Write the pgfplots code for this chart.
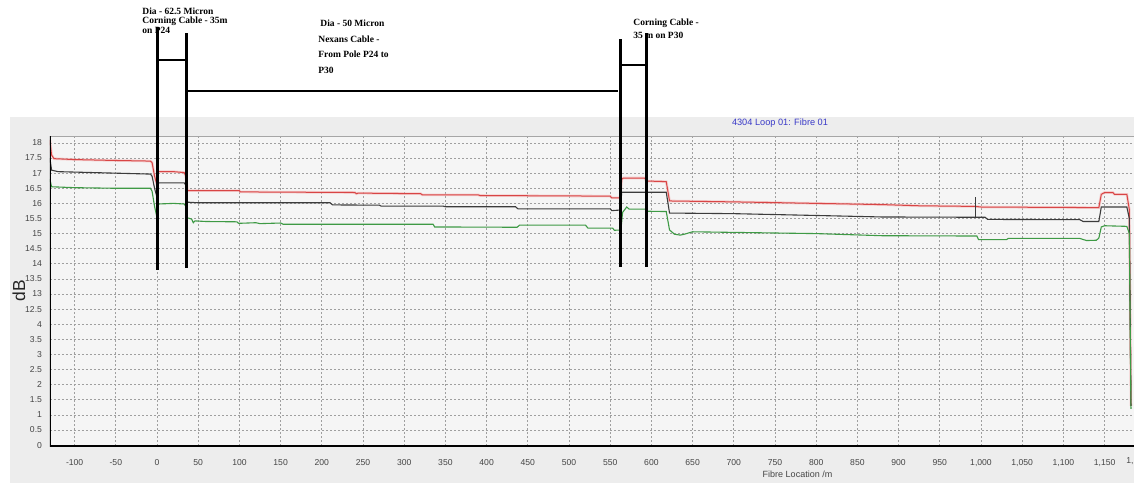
\documentclass[border=0pt]{standalone}
\usepackage{pgfplots}
\pgfplotsset{compat=1.18}
\usepackage{fontspec}
\setmainfont{Liberation Sans}
\newfontfamily\timesb{Liberation Serif}
\definecolor{panel}{HTML}{EDEDED}
\definecolor{plotbg}{HTML}{F5F5F5}
\definecolor{tracered}{HTML}{D84545}
\definecolor{redhalo}{HTML}{F4B4B4}
\definecolor{tracegray}{HTML}{3C3C3C}
\definecolor{tracegreen}{HTML}{3E9A45}
\definecolor{titleblue}{HTML}{3A3AC8}
\definecolor{ticktext}{HTML}{454545}

\begin{document}
\begin{tikzpicture}
\fill[white] (0,0) rectangle (567pt,-241.5pt);
\fill[panel] (5pt,-58.5pt) rectangle (567pt,-241.5pt);
\begin{axis}[
  at={(25pt,-223pt)}, anchor=south west,
  scale only axis, width=542pt, height=155pt,
  xmin=-129.9, xmax=1185.7, ymin=-0.03, ymax=10.23,
  axis line style={draw=none},
  axis background/.style={fill=plotbg},
  xtick={-100,-50,...,1150},
  ytick={0,0.5,...,10},
  yticklabels={0,0.5,1,1.5,2,2.5,3,3.5,4,12.5,13,13.5,14,14.5,15,15.5,16,16.5,17,17.5,18},
  grid=major,
  major grid style={gray!75, line width=0.35pt, dash pattern=on 1pt off 1pt},
  tick style={draw=none},
  ticklabel style={font=\fontsize{4.3}{5}\selectfont, text=ticktext},
  /pgf/number format/assume math mode=true,
  /pgf/number format/1000 sep={,},
  xticklabel style={yshift=-3pt},
  yticklabel style={xshift=-0.5pt},
  y filter/.expression={y>=12 ? y-8 : y},
  clip=true,
]
\draw[gray!70, line width=0.4pt] (rel axis cs:0,1) -- (rel axis cs:1,1);
% red trace
\addplot[redhalo, line width=1.3pt, opacity=0.6] coordinates {
(-130,18.1) (-128,17.6) (-125,17.48) (-100,17.45) (-50,17.42) (-8,17.4) (-6,17.35) (-3,16.9) (-1,16.7) (0,16.8) (1,17.05) (20,17.05) (33,17.02) (35,16.9) (37,16.42) (100,16.42) (101,16.38) (240,16.36) (242,16.32) (244,16.34) (320,16.32) (322,16.28) (390,16.28) (392,16.26) (550,16.24) (552,16.18) (562,16.18) (564,16.8) (566,16.84) (592,16.84) (594,16.74) (618,16.72) (622,16.08) (700,16.05) (800,16.0) (880,15.96) (926,15.92) (993,15.9) (1000,15.88) (1143,15.86) (1146,16.3) (1150,16.36) (1160,16.36) (1162,16.3) (1177,16.3) (1180,15.8) (1182,1.3)
};
\addplot[tracered, line width=0.5pt] coordinates {
(-130,18.1) (-128,17.6) (-125,17.48) (-100,17.45) (-50,17.42) (-8,17.4) (-6,17.35) (-3,16.9) (-1,16.7) (0,16.8) (1,17.05) (20,17.05) (33,17.02) (35,16.9) (37,16.42) (100,16.42) (101,16.38) (240,16.36) (242,16.32) (244,16.34) (320,16.32) (322,16.28) (390,16.28) (392,16.26) (550,16.24) (552,16.18) (562,16.18) (564,16.8) (566,16.84) (592,16.84) (594,16.74) (618,16.72) (622,16.08) (700,16.05) (800,16.0) (880,15.96) (926,15.92) (993,15.9) (1000,15.88) (1143,15.86) (1146,16.3) (1150,16.36) (1160,16.36) (1162,16.3) (1177,16.3) (1180,15.8) (1182,1.3)
};
% dark trace
\addplot[tracegray, line width=0.55pt] coordinates {
(-130,17.5) (-128,17.1) (-120,17.05) (-50,17.0) (-8,16.97) (-6,16.9) (-3,16.5) (-1,16.3) (0,16.5) (2,16.68) (33,16.68) (35,16.6) (37,16.04) (50,16.02) (210,16.02) (213,15.95) (270,15.94) (272,15.91) (347,15.91) (350,15.89) (435,15.89) (438,15.82) (550,15.82) (552,15.76) (562,15.78) (564,16.37) (618,16.37) (622,15.68) (700,15.66) (800,15.6) (880,15.55) (1005,15.54) (1008,15.47) (1120,15.46) (1124,15.4) (1143,15.4) (1146,15.88) (1177,15.88) (1180,15.5) (1182,1.3)
};
% green trace
\addplot[tracegreen, line width=0.55pt] coordinates {
(-130,16.8) (-128,16.55) (-100,16.52) (-50,16.5) (-8,16.5) (-6,16.4) (-3,15.9) (-1,15.65) (0,15.8) (2,15.98) (20,16.0) (33,15.98) (35,15.9) (37,15.52) (42,15.48) (44,15.36) (46,15.42) (60,15.4) (97,15.39) (99,15.34) (120,15.36) (125,15.33) (150,15.35) (153,15.31) (335,15.31) (337,15.22) (437,15.21) (440,15.28) (520,15.28) (523,15.18) (553,15.18) (555,15.11) (563,15.12) (565,15.7) (570,15.88) (573,15.81) (593,15.81) (595,15.74) (618,15.73) (622,15.12) (628,14.98) (635,14.95) (640,14.98) (650,15.06) (700,15.04) (800,15.0) (880,14.93) (995,14.92) (997,14.8) (1031,14.8) (1033,14.84) (1120,14.84) (1128,14.77) (1140,14.78) (1143,14.85) (1146,15.22) (1150,15.26) (1177,15.24) (1180,15.0) (1182,1.2)
};
% event marker
\addplot[tracegray, line width=0.5pt] coordinates {(993,16.2) (993,15.55)};
\draw[black, line width=1pt] (rel axis cs:0,1) -- (rel axis cs:0,0) -- (rel axis cs:1,0);
\end{axis}
\begin{scope}[x=0.5pt, y=-0.5pt]
% annotation lines
\draw[line width=1.1pt] (157.5,27) -- (157.5,270);
\draw[line width=1.1pt] (186.5,33) -- (186.5,268);
\draw[line width=1.1pt] (157.5,60) -- (186.5,60);
\draw[line width=1.1pt] (186.5,91) -- (618,91);
\draw[line width=1.1pt] (620.5,39) -- (620.5,267);
\draw[line width=1.1pt] (646.5,33) -- (646.5,267);
\draw[line width=1.1pt] (620.5,65) -- (646.5,65);
% annotation texts
\tikzset{ann/.style={anchor=base west, inner sep=0pt, font=\timesb\bfseries\fontsize{4.75}{4.75}\selectfont}}
\node[ann] at (142,14) {Dia - 62.5 Micron};
\node[ann] at (142,23.5) {Corning Cable - 35m};
\node[ann] at (142,33) {on P24};
\node[ann] at (320,26) {Dia - 50 Micron};
\node[ann] at (318,42) {Nexans Cable -};
\node[ann] at (318,57) {From Pole P24 to};
\node[ann] at (318,73) {P30};
\node[ann] at (633,25) {Corning Cable -};
\node[ann] at (633,38.5) {35 m on P30};
% title and labels
\node[font=\fontsize{4.6}{5}\selectfont, text=titleblue] at (780,123) {4304 Loop 01: Fibre 01};
\node[rotate=90, font=\fontsize{8.7}{9}\selectfont, text=black!85] at (19,291) {dB};
\node[font=\fontsize{4.5}{5}\selectfont, text=ticktext] at (797.5,474) {Fibre Location /m};
\node[anchor=base west, inner sep=0pt, font=\fontsize{4.3}{5}\selectfont, text=ticktext] at (1126,463) {1,};
\end{scope}
\pgfresetboundingbox
\useasboundingbox (0,0) rectangle (567pt,-241.5pt);
\end{tikzpicture}
\end{document}
